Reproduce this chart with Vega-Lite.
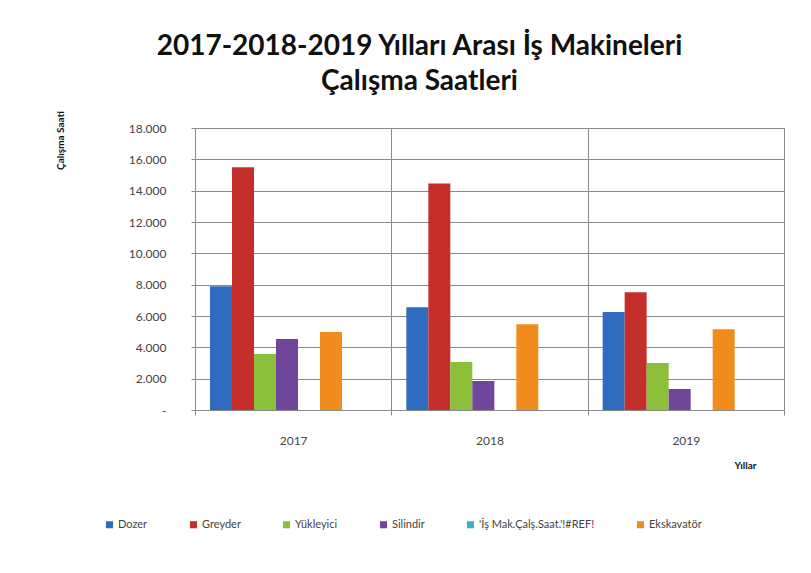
{
  "$schema": "https://vega.github.io/schema/vega-lite/v6.json",
  "autosize": {"type": "none"},
  "width": 589,
  "height": 282,
  "padding": {"left": 195, "top": 128, "right": 27, "bottom": 163},
  "background": "white",
  "title": {
    "text": ["2017-2018-2019 Yılları Arası İş Makineleri", "Çalışma Saatleri"],
    "font": "Lato",
    "fontSize": 28,
    "fontWeight": "bold",
    "color": "#111111",
    "anchor": "middle",
    "dx": -70,
    "offset": 15,
    "lineHeight": 35
  },
  "data": {
    "values": [
      {"yil": "2017", "seri": "Dozer", "saat": 7900},
      {"yil": "2017", "seri": "Greyder", "saat": 15500},
      {"yil": "2017", "seri": "Yükleyici", "saat": 3580},
      {"yil": "2017", "seri": "Silindir", "saat": 4530},
      {"yil": "2017", "seri": "'İş Mak.Çalş.Saat.'!#REF!", "saat": 0},
      {"yil": "2017", "seri": "Ekskavatör", "saat": 4980},
      {"yil": "2018", "seri": "Dozer", "saat": 6560},
      {"yil": "2018", "seri": "Greyder", "saat": 14450},
      {"yil": "2018", "seri": "Yükleyici", "saat": 3060},
      {"yil": "2018", "seri": "Silindir", "saat": 1850},
      {"yil": "2018", "seri": "'İş Mak.Çalş.Saat.'!#REF!", "saat": 0},
      {"yil": "2018", "seri": "Ekskavatör", "saat": 5480},
      {"yil": "2019", "seri": "Dozer", "saat": 6250},
      {"yil": "2019", "seri": "Greyder", "saat": 7520},
      {"yil": "2019", "seri": "Yükleyici", "saat": 3000},
      {"yil": "2019", "seri": "Silindir", "saat": 1340},
      {"yil": "2019", "seri": "'İş Mak.Çalş.Saat.'!#REF!", "saat": 0},
      {"yil": "2019", "seri": "Ekskavatör", "saat": 5160}
    ]
  },
  "mark": {"type": "bar"},
  "encoding": {
    "x": {
      "field": "yil",
      "type": "nominal",
      "scale": {"paddingInner": 0, "paddingOuter": 0},
      "axis": {
        "title": "Yıllar",
        "titleFont": "Lato",
        "titleFontSize": 10,
        "titleFontWeight": "bold",
        "titleColor": "#111111",
        "titleX": 550,
        "titleY": 55,
        "titleAlign": "center",
        "titleBaseline": "middle",
        "labelAngle": 0,
        "labelFont": "Lato",
        "labelFontSize": 12,
        "labelColor": "#444444",
        "labelPadding": 20,
        "tickBand": "extent",
        "ticks": true,
        "tickSize": 5,
        "tickColor": "#8a8a8a",
        "domainColor": "#8a8a8a",
        "grid": true,
        "gridColor": "#8a8a8a",
        "gridWidth": 1
      }
    },
    "xOffset": {
      "field": "seri",
      "type": "nominal",
      "sort": ["Dozer", "Greyder", "Yükleyici", "Silindir", "'İş Mak.Çalş.Saat.'!#REF!", "Ekskavatör"],
      "scale": {"range": [15, 147], "paddingInner": 0, "paddingOuter": 0}
    },
    "y": {
      "field": "saat",
      "type": "quantitative",
      "scale": {"domain": [0, 18000], "nice": false},
      "axis": {
        "values": [0, 2000, 4000, 6000, 8000, 10000, 12000, 14000, 16000, 18000],
        "labelExpr": "datum.value == 0 ? '-' : replace(format(datum.value, ','), ',', '.')",
        "title": "Çalışma Saati",
        "titleFont": "Lato",
        "titleFontSize": 10,
        "titleFontWeight": "bold",
        "titleColor": "#111111",
        "titleAngle": -90,
        "titleX": -135,
        "titleY": 12,
        "titleAlign": "center",
        "titleBaseline": "middle",
        "labelFont": "Lato",
        "labelFontSize": 12,
        "labelColor": "#444444",
        "labelPadding": 25,
        "tickSize": 4,
        "tickColor": "#8a8a8a",
        "domainColor": "#8a8a8a",
        "grid": true,
        "gridColor": "#8a8a8a",
        "gridWidth": 1
      }
    },
    "color": {
      "field": "seri",
      "type": "nominal",
      "sort": ["Dozer", "Greyder", "Yükleyici", "Silindir", "'İş Mak.Çalş.Saat.'!#REF!", "Ekskavatör"],
      "scale": {
        "domain": ["Dozer", "Greyder", "Yükleyici", "Silindir", "'İş Mak.Çalş.Saat.'!#REF!", "Ekskavatör"],
        "range": ["#2f6cc0", "#c42f2c", "#8cbf3a", "#6f469c", "#3fb0c8", "#f08c1e"]
      },
      "legend": {
        "title": null,
        "orient": "none",
        "direction": "horizontal",
        "legendX": -91,
        "legendY": 391,
        "columnPadding": 40,
        "symbolType": "square",
        "symbolSize": 50,
        "symbolStrokeWidth": 0,
        "labelFont": "Lato",
        "labelFontSize": 11,
        "labelColor": "#444444",
        "labelOffset": 3,
        "labelLimit": 200
      }
    }
  },
  "config": {
    "view": {"stroke": "#8a8a8a"}
  }
}
